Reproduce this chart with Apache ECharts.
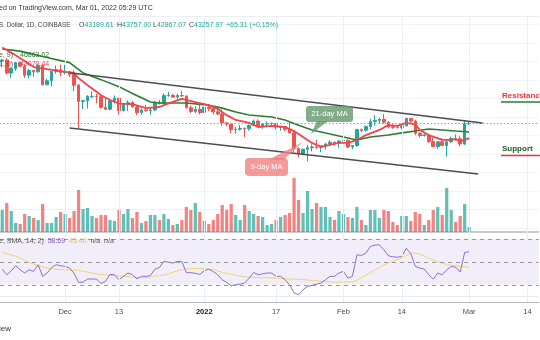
<!DOCTYPE html>
<html><head><meta charset="utf-8">
<script src="https://cdn.jsdelivr.net/npm/echarts@6/dist/echarts.min.js"></script>
<style>html,body{margin:0;padding:0;background:#fff}#c{width:540px;height:340px}</style>
</head><body><div id="c"></div>
<script>
// ---------- DATA ----------
const startDate = '2021-11-17';
const dayCount = 120;
const opens  = [60100,60400,56900,58100,59700,58700,56300,57600,57200,58900, 53700,54800,57300,57800,57000,57200,56500,53600,49200,49400, 50500,50600,50500,47600,47100,49400,50100,46700,48400,48900, 47700,46200,46900,46700,46900,49000,48600,50800,50850,50400, 50800,50700,47500,46500,47100,46200,47700,47300,46400,45800, 43400,43100,41600,41700,41900,41800,42700,43900,42600,43100, 43200,43250,42200,42400,41700,40700,36500,35100,36300,36700, 36900,36800,37200,37700,38200,37900,38500,38700,36900,37300, 41600,41400,42400,43800,44100,44400,43600,42400,42200,42100, 42600,44600,43900,40600,40000,40100,38400,37000,38300,37300, 38300,39200,39100,37700,43189.61];
const highs  = [60800,60900,58400,59900,60000,59300,58000,57700,59400,59200, 55300,57400,58900,59200,59100,57400,57600,53900,49700,50900, 51900,51200,50800,50100,49500,50800,50200,48700,49500,49400, 48000,47300,48300,47500,49300,49600,51400,51800,51200,51300, 52000,50700,48100,47900,48500,47900,47900,47500,47500,47000, 43700,43100,42300,42800,42200,43000,44300,44400,43400,43800, 43500,43300,42600,42500,43500,41100,36800,36500,37500,37600, 38900,37200,38000,38700,38300,38700,39300,38900,37400,41800, 41900,42700,44500,45500,44800,45800,43900,43000,42700,42900, 44800,44600,44200,40900,40500,40200,39500,38400,39300,39000, 39700,40300,39900,44200,43757.00];
const lows   = [58400,56500,55600,57500,58500,55600,55400,55900,57000,53600, 53700,53300,56700,56000,56500,55800,52000,42000,47100,47300, 50100,48700,47300,46900,46800,48700,45700,46500,46600,47600, 45500,45600,46400,45600,46700,48400,47900,50500,50200,49400, 50500,47300,46100,46000,45700,46200,46600,45700,45500,42600, 42500,40600,40500,41300,39600,41300,42500,42400,41800,42600, 42700,41600,41300,41200,40600,35500,34000,34600,33000,35700, 36400,35500,36200,37400,37300,36700,38000,36600,36300,37000, 40900,41100,41700,42700,43200,43200,42000,41800,41900,41600, 42500,43300,40100,39500,39700,38000,36800,36400,37100,34300, 38000,38600,37100,37500,42867.07];
const closes = [60400,56900,58100,59700,58700,56300,57600,57200,58900,53700, 54800,57300,57800,57000,57200,56500,53600,49200,49400,50600, 50600,50500,47600,47100,49400,50100,46700,48400,48900,47700, 46200,46900,46700,46900,49000,48600,50800,50850,50400,50800, 50700,47500,46500,47100,46200,47700,47300,46400,45800,43400, 43100,41600,41700,41900,41800,42700,43900,42600,43100,43200, 43250,42200,42400,41700,40700,36500,35100,36300,36700,36900, 36800,37200,37700,38200,37900,38500,38700,36900,37300,41600, 41400,42400,43800,44100,44400,43600,42400,42200,42100,42600, 44600,43900,40600,40000,40100,38400,37000,38300,37300,38300, 39200,39100,37700,43190,43257.97];
const volumes = [22,29,21,9,8,18,16,14,12,28, 9,9,15,20,18,14,21,42,23,24, 16,14,17,17,12,11,22,18,23,14, 20,9,11,17,17,12,18,13,7,8, 12,25,22,29,20,11,8,12,18,27, 22,28,17,12,27,21,18,16,15,7, 8,12,15,17,19,54,32,19,41,23, 29,25,25,15,12,21,18,15,14,25, 12,7,22,22,14,22,21,10,7,16, 16,11,20,18,7,12,22,25,17,44, 22,10,16,28,5];
const rsi = [43.6,38.7,42,46.5,43,40.2,43,41.7,47.4,37.3, 40.2,45,47.4,46.5,46,44.5,40,32,32.3,35, 35,35,31,33,39,38.7,34.3,37.3,40.2,38.7, 35.2,37.3,37.3,38,43.6,45,50.3,49.7,48.8,50.3, 50.3,40.5,40.5,40,39,42,43.6,41.5,38.7,34.3, 32,29.1,30,30.5,31.5,35.8,40.7,38.7,39.5,40.2, 40.2,37.3,37.3,34.3,30,23,21.3,25.6,28.5,29.5, 30.5,31.5,34.3,37.3,37.3,40.2,41.7,35.8,37.3,56.1, 55.5,57.5,63.3,64.5,64.8,60.4,55.2,54.3,54,54.6, 61.8,57,45.9,44.5,43.6,38.7,34.9,40.2,38.7,43, 45.9,45.3,41,58.1,58.69];
const rsiSma = [58.1,57,56,54.8,53,51,49.5,48,46.5,45.5, 44.5,43.9,43.5,43.2,43,42.8,42.7,42.4,41.8,41, 40,39.5,38.9,38.5,38.2,37.9,37.6,37.4,37,36.6, 36.3,36,36.2,36.8,37.5,38,38.3,39.5,40.8,42, 43,43.5,44,44.2,44.3,44.1,43.6,43.2,42,40.8, 39.8,39,38.2,37.5,37,36.6,36.4,36.2,36.1,36, 35.9,35.7,35.5,35.2,35,34.8,34.6,34.5,34.1,33.7, 33.4,33.1,32.8,32.5,32.3,32.3,32.4,32.5,32.6,34, 36,38.3,40.4,42.8,45,47.2,49.1,50.5,52,53.2, 55.5,57.5,57.5,56.5,55,53,51.3,50,48.7,47.8, 47,46.5,46,45.7,45.4];
// moving averages: [day index, price]
const ma9 = [[0,63800],[3,61700],[7,58500],[14,57200],[16,56900],[17,55500],[19,53600],[21,51800],[22,50900],[24,49600],[26,48600],[29,48500],[32,47400],[35,47700],[38,49100],[40,49900],[43,49000],[46,48200],[48,47200],[50,45500],[52,44200],[55,43400],[57,42300],[60,42600],[63,42300],[65,41200],[67,39600],[69,38000],[71,36900],[72,37200],[75,38000],[77,38000],[79,38800],[81,40100],[84,41500],[86,42800],[88,42600],[90,43400],[92,43000],[93,41500],[95,40100],[98,38800],[100,38800],[101,39000],[102,38400],[103,38800],[104,39300]];
const ma21 = [[0,63400],[4,62800],[9,61350],[15,59700],[18,56900],[22,55100],[26,53200],[29,51350],[33,49050],[35,48800],[41,48800],[46,48200],[49,47400],[52,46350],[55,45550],[60,45000],[63,44200],[66,42800],[69,41500],[71,40950],[75,39850],[78,39050],[79,38800],[82,39600],[86,40150],[89,40700],[92,41200],[95,41750],[98,41500],[101,41200],[104,40950]];
const upperChannel = [[15,56950],[107,43380]];
const lowerChannel = [[15,42030],[106,29600]];
const lastClose = 43257.97;
const rsiLevels = [70, 50, 30];
const rsiGridLine = 20.2;
const tickLabels = {'2021-12-01':'Dec','2021-12-13':'13','2022-01-01':'2022','2022-01-17':'17','2022-02-01':'Feb','2022-02-14':'14','2022-03-01':'Mar','2022-03-14':'14'};

// ---------- BUILD ----------
const categories = [];
const d0 = new Date(startDate + 'T00:00:00Z');
for (let k = 0; k < dayCount; k++) categories.push(new Date(d0.getTime() + k * 86400000).toISOString().slice(0, 10));
const UP = '#26a69a', DOWN = '#ef5350';
const FONT = '"Liberation Sans", Arial, sans-serif';
const candleData = opens.map((o, k) => [o, closes[k], lows[k], highs[k]]);
const volData = volumes.map((v, k) => ({value: v, itemStyle: {color: closes[k] >= opens[k] ? 'rgba(38,166,154,0.72)' : 'rgba(239,83,80,0.72)'}}));
const gridIdx = Object.keys(tickLabels).map(d => categories.indexOf(d));
const L = -1.25, W = 540;
const xMin = -0.5, xMax = dayCount - 0.5;

function txt(x, y, text, fill, size, extra) {
  return {type: 'text', x: x, y: y, z: 50, style: Object.assign({text: text, fill: fill, font: (size || 7) + 'px ' + FONT, textVerticalAlign: 'middle', verticalAlign: 'middle'}, extra || {})};
}
const rich7 = (c) => ({fill: c, font: '7px ' + FONT});

const option = {
  animation: false,
  backgroundColor: '#ffffff',
  grid: [
    {left: L, width: W, top: 24.5, height: 203.5},
    {left: L, width: W, top: 132, height: 100},
    {left: L, width: W, top: 233, height: 69},
    {left: L, width: W, top: 16, height: 286},
    {left: L, width: W, top: 233, height: 69},
    {left: L, width: W, top: 24.5, height: 203.5}
  ],
  xAxis: [
    {type: 'category', gridIndex: 0, data: categories, boundaryGap: true, show: false},
    {type: 'category', gridIndex: 1, data: categories, boundaryGap: true,
      axisLine: {show: true, lineStyle: {color: '#b8bbc2', width: 1.5}}, axisTick: {show: false}, axisLabel: {show: false}, splitLine: {show: false}},
    {type: 'category', gridIndex: 2, data: categories, boundaryGap: true,
      axisLine: {show: true, lineStyle: {color: '#b2b5be', width: 1}}, axisTick: {show: false}, splitLine: {show: false},
      axisLabel: {interval: (idx, val) => tickLabels[val] !== undefined,
        formatter: (val) => val === '2022-01-01' ? '{b|2022}' : tickLabels[val],
        color: '#4a4d55', fontSize: 7.5, margin: 6, fontFamily: FONT,
        rich: {b: {fontWeight: 'bold', color: '#131722', fontSize: 7.5, fontFamily: FONT}}}},
    {type: 'value', gridIndex: 3, min: xMin, max: xMax, show: false},
    {type: 'value', gridIndex: 4, min: xMin, max: xMax, show: false},
    {type: 'value', gridIndex: 5, min: xMin, max: xMax, show: false}
  ],
  yAxis: [
    {type: 'value', gridIndex: 0, min: 15000, max: 70000, interval: 5000, axisLine: {show: false}, axisTick: {show: false}, axisLabel: {show: false}, splitLine: {show: true, lineStyle: {color: '#eff2f7', width: 1}}},
    {type: 'value', gridIndex: 1, min: 0, max: 100, show: false},
    {type: 'value', gridIndex: 2, min: 15, max: 75, show: false},
    {type: 'value', gridIndex: 3, min: 0, max: 1, show: false},
    {type: 'value', gridIndex: 4, min: 15, max: 75, show: false},
    {type: 'value', gridIndex: 5, min: 15000, max: 70000, show: false}
  ],
  series: [
    {type: 'line', xAxisIndex: 3, yAxisIndex: 3, data: [[0, 0.5]], showSymbol: false, lineStyle: {opacity: 0}, silent: true, z: 0,
      markLine: {silent: true, symbol: 'none', label: {show: false}, lineStyle: {color: '#eaeef5', width: 1, type: 'solid'},
        data: gridIdx.map(i => ({xAxis: i})).concat([{yAxis: 1}])}},
    // RSI band and levels
    {type: 'line', xAxisIndex: 4, yAxisIndex: 4, data: [[0, 50]], showSymbol: false, lineStyle: {opacity: 0}, silent: true, z: 1,
      markArea: {silent: true, itemStyle: {color: 'rgba(126,87,194,0.1)'}, data: [[{coord: [xMin, rsiLevels[0]]}, {coord: [xMax, rsiLevels[2]]}]]},
      markLine: {silent: true, symbol: 'none', label: {show: false}, lineStyle: {color: '#9598a1', type: [4, 4], width: 1},
        data: rsiLevels.map(v => [{coord: [xMin, v]}, {coord: [xMax, v]}]).concat([[{coord: [xMin, rsiGridLine], lineStyle: {color: '#e4ebf4', type: 'solid'}}, {coord: [xMax, rsiGridLine]}]])}},
    // last-price dotted line
    {type: 'line', xAxisIndex: 5, yAxisIndex: 5, data: [[0, lastClose]], showSymbol: false, lineStyle: {opacity: 0}, silent: true, z: 2,
      markLine: {silent: true, symbol: 'none', label: {show: false}, lineStyle: {color: '#4fb8ad', type: [1.5, 2], width: 1, opacity: 0.9},
        data: [[{coord: [xMin, lastClose]}, {coord: [xMax, lastClose]}]]}},
    {type: 'bar', xAxisIndex: 1, yAxisIndex: 1, data: volData, barWidth: '72%', z: 1, silent: true},
    {type: 'candlestick', xAxisIndex: 0, yAxisIndex: 0, data: candleData, barWidth: '68%', z: 3, silent: true,
      itemStyle: {color: UP, color0: DOWN, borderColor: UP, borderColor0: DOWN, borderWidth: 1}},
    {type: 'line', xAxisIndex: 0, yAxisIndex: 0, data: ma21, showSymbol: false, smooth: false, z: 4, silent: true, lineStyle: {color: '#2e7d32', width: 1.6}},
    {type: 'line', xAxisIndex: 0, yAxisIndex: 0, data: ma9, showSymbol: false, smooth: false, z: 5, silent: true, lineStyle: {color: '#f0454a', width: 1.8}},
    {type: 'line', xAxisIndex: 0, yAxisIndex: 0, data: upperChannel, showSymbol: false, z: 6, silent: true, lineStyle: {color: '#4d4d4d', width: 1.4}},
    {type: 'line', xAxisIndex: 0, yAxisIndex: 0, data: lowerChannel, showSymbol: false, z: 6, silent: true, lineStyle: {color: '#4d4d4d', width: 1.4}},
    {type: 'line', xAxisIndex: 2, yAxisIndex: 2, data: rsiSma, showSymbol: false, z: 2, silent: true, lineStyle: {color: '#f2d46a', width: 1}},
    {type: 'line', xAxisIndex: 2, yAxisIndex: 2, data: rsi, showSymbol: false, z: 3, silent: true, lineStyle: {color: '#8c6fd1', width: 1}}
  ],
  graphic: [
    txt(-1, 8, 'ed on TradingView.com, Mar 01, 2022 05:29 UTC', '#333', 7),
    txt(-1, 25, 'S. Dollar, 1D, COINBASE', '#444', 6.3),
    txt(79, 25, '{g|O}{v|43189.61}', '#444', 7, {rich: {g: rich7('#444'), v: rich7(UP)}}),
    txt(117, 25, '{g|H}{v|43757.00}', '#444', 7, {rich: {g: rich7('#444'), v: rich7(UP)}}),
    txt(153, 25, '{g|L}{v|42867.07}', '#444', 7, {rich: {g: rich7('#444'), v: rich7(UP)}}),
    txt(189, 25, '{g|C}{v|43257.97}', '#444', 7, {rich: {g: rich7('#444'), v: rich7(UP)}}),
    txt(226, 25, '+65.31 (+0.15%)', UP, 7),
    txt(-1, 55, 'e, 9)', '#555', 7),
    txt(20, 55, '46863.02', '#2e7d32', 7),
    txt(-1, 64, '1, 0)', '#555', 7),
    txt(20, 64, '43070.44', '#f0454a', 7),
    txt(-1, 241, '{g|e, SMA, 14, 2)}  {p|58.69}  {y|45.40}  {g|n/a}  {g|n/a}', '#555', 7, {rich: {g: rich7('#555'), p: rich7('#7e57c2'), y: rich7('#e8c93a')}}),
    txt(-1, 329, 'iew', '#333', 8),
    // 21-day MA callout
    {type: 'polygon', z: 40, shape: {points: [[317, 121], [328, 121], [311, 134]]}, style: {fill: 'rgba(96,150,102,0.78)'}},
    {type: 'rect', z: 40, shape: {x: 306, y: 106, width: 47, height: 16, r: 3}, style: {fill: 'rgba(96,150,102,0.78)'}},
    txt(329.5, 114, '21-day MA', '#ffffff', 7.5, {textAlign: 'center', align: 'center'}),
    // 9-day MA callout
    {type: 'polygon', z: 40, shape: {points: [[268, 160], [283, 160], [303, 142]]}, style: {fill: 'rgba(242,128,128,0.8)'}},
    {type: 'rect', z: 40, shape: {x: 245, y: 158, width: 43, height: 18, r: 4}, style: {fill: 'rgba(242,128,128,0.8)'}},
    txt(266.5, 167, '9-day MA', '#ffffff', 7.5, {textAlign: 'center', align: 'center'}),
    // Resistance / Support
    txt(502, 96, 'Resistance', '#e53935', 8, {font: 'bold 8px ' + FONT}),
    {type: 'line', z: 40, shape: {x1: 501, y1: 102, x2: 541, y2: 102}, style: {stroke: '#2e7d32', lineWidth: 1.5}},
    txt(502, 149, 'Support', '#1b5e20', 8, {font: 'bold 8px ' + FONT}),
    {type: 'line', z: 40, shape: {x1: 501, y1: 155.5, x2: 541, y2: 155.5}, style: {stroke: '#e53935', lineWidth: 1.5}}
  ]
};
const chart = echarts.init(document.getElementById('c'), null, {renderer: 'canvas'});
chart.setOption(option);
</script>
</body></html>
